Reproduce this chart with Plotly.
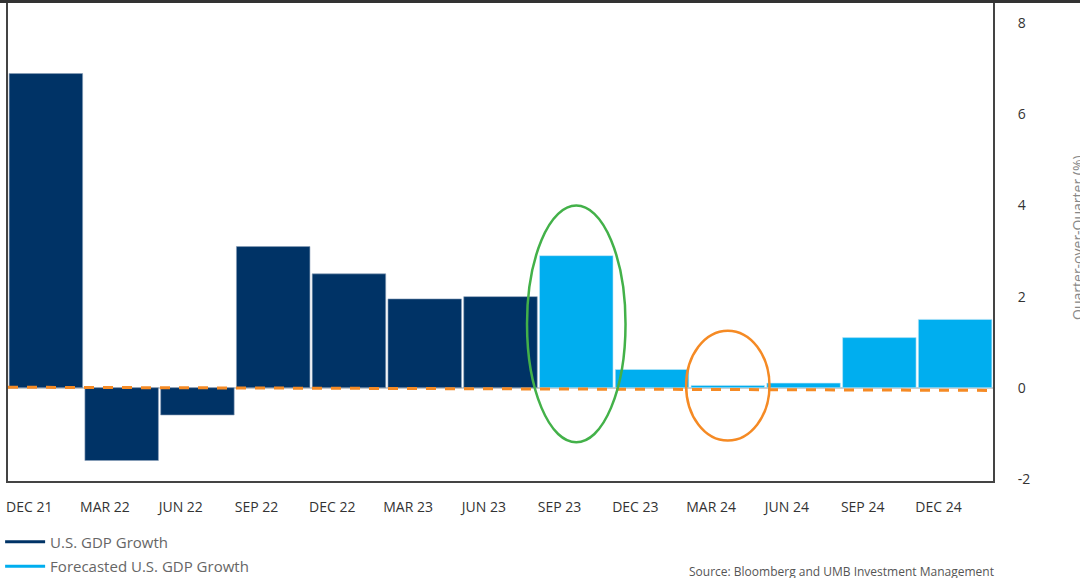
import plotly.graph_objects as go

categories = ["DEC 21", "MAR 22", "JUN 22", "SEP 22", "DEC 22", "MAR 23", "JUN 23",
              "SEP 23", "DEC 23", "MAR 24", "JUN 24", "SEP 24", "DEC 24"]
actual = [6.9, -1.6, -0.6, 3.1, 2.5, 1.95, 2.0]
forecast = [2.9, 0.4, 0.05, 0.1, 1.1, 1.5]
trend_x = [-0.5, 12.5]
trend_y = [0.01, -0.06]
y_ticks = [-2, 0, 2, 4, 6, 8]
y_tick_text = ["-2", "0", "2", "4", "6", "8"]

NAVY = "#003366"
LIGHT = "#00AEEF"
ORANGE = "#F58A24"
GREEN = "#43B149"
FONT = "Open Sans"

n_act = len(actual)
x_act = list(range(n_act))
x_fc = list(range(n_act, n_act + len(forecast)))

fig = go.Figure()
fig.add_trace(go.Bar(x=x_act, y=actual, marker=dict(color=NAVY, line=dict(color="#8aa0b8", width=0.6)),
                     width=0.97, showlegend=False))
fig.add_trace(go.Bar(x=x_fc, y=forecast, marker=dict(color=LIGHT, line=dict(color="#bfe6f7", width=0.6)),
                     width=0.97, showlegend=False))
fig.add_trace(go.Scatter(x=trend_x, y=trend_y, mode="lines",
                         line=dict(color=ORANGE, width=3, dash="10px,9px"), showlegend=False))
# legend entries drawn as lines
fig.add_trace(go.Scatter(x=[None], y=[None], mode="lines", name="U.S. GDP Growth",
                         legendgroup="a", line=dict(color=NAVY, width=3)))
fig.add_trace(go.Scatter(x=[None], y=[None], mode="lines", name="Forecasted U.S. GDP Growth",
                         legendgroup="b", line=dict(color=LIGHT, width=3)))

# highlight ellipses
fig.add_shape(type="circle", xref="x", yref="y", x0=6.35, x1=7.65, y0=-1.2, y1=4.0,
              line=dict(color=GREEN, width=2.5))
fig.add_shape(type="circle", xref="x", yref="y", x0=8.45, x1=9.55, y0=-1.16, y1=1.25,
              line=dict(color=ORANGE, width=2.5))
# top border across the whole image
fig.add_shape(type="line", xref="paper", yref="paper", x0=-0.01, x1=1.09, y0=1.003, y1=1.003,
              line=dict(color="#333333", width=3))

fig.update_layout(
    width=1080, height=578,
    margin=dict(l=8, r=87, t=3, b=97, autoexpand=False),
    paper_bgcolor="white", plot_bgcolor="white",
    font=dict(family=FONT, color="#333333"),
    bargap=0.03,
    xaxis=dict(range=[-0.5, 12.5], tickmode="array", automargin=False,
               tickvals=[i - 0.22 for i in range(len(categories))], ticktext=categories,
               showgrid=False, zeroline=False, showline=True, linecolor="#444444", linewidth=2,
               mirror=True, ticks="outside", ticklen=12, tickcolor="rgba(0,0,0,0)",
               tickfont=dict(size=14, color="#333333")),
    yaxis=dict(side="right", range=[-2.05, 8.45], tickvals=y_ticks, ticktext=y_tick_text,
               automargin=False,
               showgrid=False, zeroline=True, zerolinecolor="#cccccc", zerolinewidth=2,
               showline=True, linecolor="#444444", linewidth=2, mirror=True,
               ticks="outside", ticklen=20, tickcolor="rgba(0,0,0,0)",
               tickfont=dict(size=14, color="#333333")),
    legend=dict(orientation="v", x=-0.008, xanchor="left", y=-0.093, yanchor="top",
                itemwidth=40, tracegroupgap=2,
                font=dict(size=15, color="#666666"), bgcolor="rgba(0,0,0,0)"),
    annotations=[
        dict(text="Quarter-over-Quarter (%)", xref="paper", yref="paper", x=1.085, y=0.51,
             xanchor="center", yanchor="middle", textangle=-90, showarrow=False,
             font=dict(size=14, color="#888888", family=FONT)),
        dict(text="Source: Bloomberg and UMB Investment Management", xref="paper", yref="paper",
             x=1.003, y=-0.19, xanchor="right", yanchor="middle", showarrow=False,
             font=dict(size=12, color="#555555", family=FONT)),
    ],
)

fig.write_html("out.html")
